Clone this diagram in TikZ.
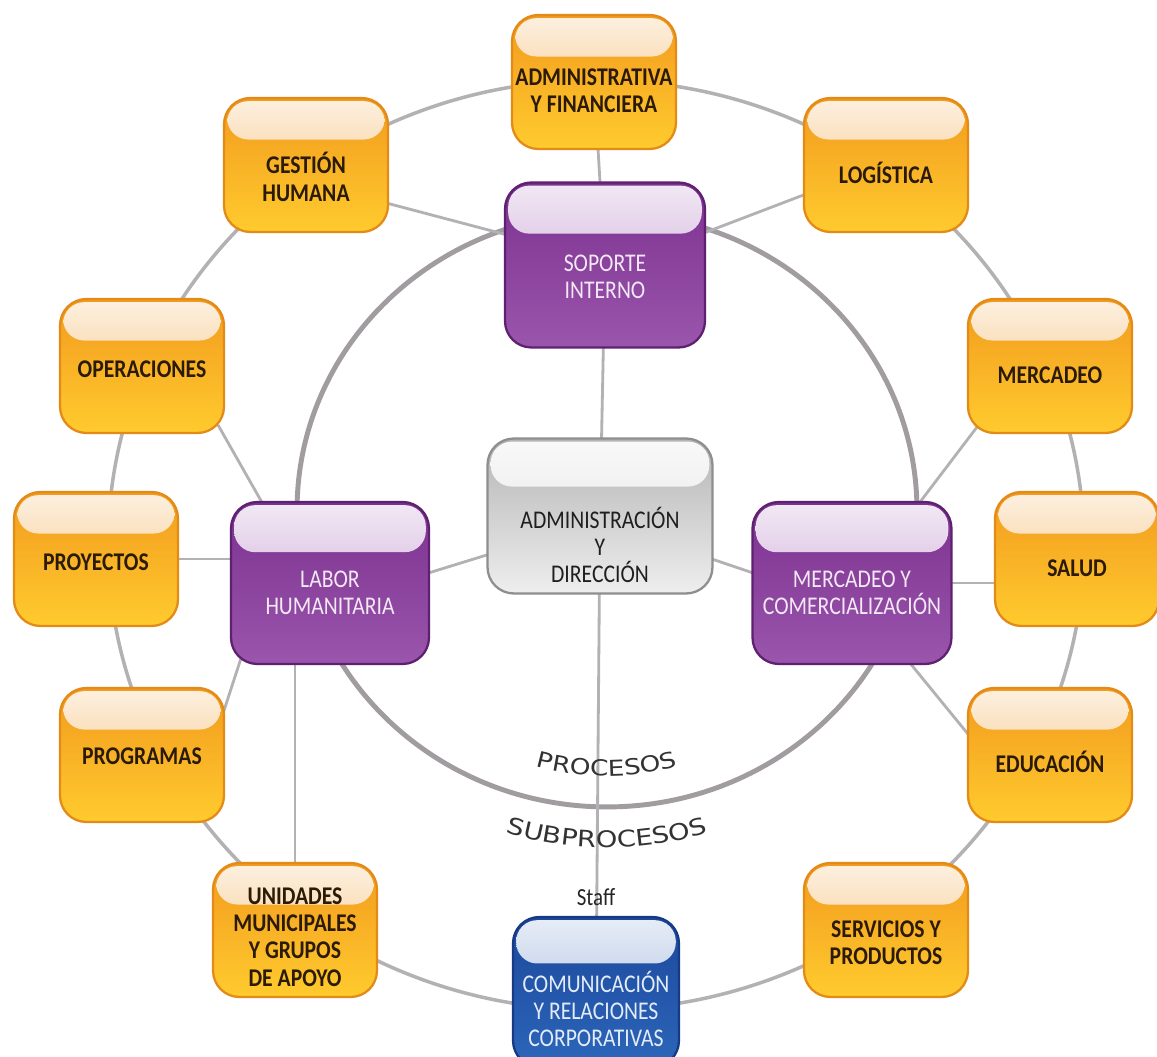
\documentclass[tikz,border=0pt]{standalone}
\usepackage{fontspec}
\setmainfont{Carlito}
\newfontfamily\boxfont[FakeStretch=0.85]{Carlito}
\newfontfamily\techfont[FakeStretch=1.2, LetterSpace=6]{DejaVu Sans}
\usetikzlibrary{calc,positioning,decorations.text}

\definecolor{orBorder}{HTML}{E38A17}
\definecolor{orTop}{HTML}{F29A1E}
\definecolor{orBot}{HTML}{FFCB2E}
\definecolor{orHi}{HTML}{F6BE76}
\definecolor{orText}{HTML}{2B1A06}
\definecolor{puBorder}{HTML}{5E2170}
\definecolor{puTop}{HTML}{7C3290}
\definecolor{puBot}{HTML}{9A55AC}
\definecolor{puHi}{HTML}{C49AD0}
\definecolor{puText}{HTML}{F3E8F5}
\definecolor{grBorder}{HTML}{8E8E8E}
\definecolor{grTop}{HTML}{B4B4B4}
\definecolor{grBot}{HTML}{EEEEEE}
\definecolor{grHi}{HTML}{E2E2E2}
\definecolor{blBorder}{HTML}{163A84}
\definecolor{blTop}{HTML}{1C489C}
\definecolor{blBot}{HTML}{2C66BA}
\definecolor{blHi}{HTML}{98B0DA}
\definecolor{blText}{HTML}{E3ECF8}
\definecolor{ringIn}{HTML}{A09CA0}
\definecolor{ringOut}{HTML}{B4B1B4}

\pgfdeclarelayer{background}
\pgfsetlayers{background,main}

\begin{document}
\begin{tikzpicture}[x=0.02cm, y=0.02cm,
	box/.style={rectangle, rounded corners=15pt, line width=1.3pt, inner sep=0pt},
	gloss/.style={path picture={\shade[top color=white!78!#1, bottom color=#1, rounded corners=12pt]
		([xshift=1.8pt,yshift=-1.8pt]path picture bounding box.north west) rectangle
		($(path picture bounding box.north east)!0.31!(path picture bounding box.south east)+(-1.8pt,0)$);}},
	orangebox/.style={box, gloss=orHi, draw=orBorder, top color=orTop, bottom color=orBot, minimum width=3.28cm, minimum height=2.68cm},
	purplebox/.style={box, gloss=puHi, draw=puBorder, top color=puTop, bottom color=puBot, minimum width=3.96cm, minimum height=3.24cm},
	graybox/.style={box, gloss=grHi, draw=grBorder, top color=grTop, bottom color=grBot, minimum width=4.5cm, minimum height=3.1cm},
	bluebox/.style={box, gloss=blHi, draw=blBorder, top color=blTop, bottom color=blBot, minimum width=3.32cm, minimum height=3cm},
	ortext/.style={font=\boxfont\bfseries\fontsize{14.5}{15.5}\selectfont, text=orText, align=center, inner sep=0pt},
	putext/.style={font=\boxfont\fontsize{14.5}{15.5}\selectfont, text=puText, align=center, inner sep=0pt},
	grtext/.style={font=\boxfont\fontsize{14.5}{15.5}\selectfont, text=black!88, align=center, inner sep=0pt},
	bltext/.style={font=\boxfont\fontsize{14.5}{15.5}\selectfont, text=blText, align=center, inner sep=0pt},
	ring/.style={draw=ringIn, line width=2.8pt},
	outring/.style={draw=ringOut, line width=2pt},
	spoke/.style={draw=ringOut, line width=1.6pt, shorten <=-6pt, shorten >=-6pt}]

	\useasboundingbox (0,0) rectangle (1157,1057);

	% centre boxes
	\node[graybox] (admindir) at (600,541) {};
	\node[purplebox, minimum width=4cm, minimum height=3.3cm] (soporte) at (605,792) {};
	\node[purplebox] (labor) at (330,474) {};
	\node[purplebox, minimum width=3.98cm] (merc) at (852,474) {};
	\node[bluebox] (comunic) at (596,65) {};

	% outer boxes
	\node[orangebox] (adminfin) at (594,975) {};
	\node[orangebox] (gestion) at (306,892) {};
	\node[orangebox] (logistica) at (886,892) {};
	\node[orangebox] (operaciones) at (142,691) {};
	\node[orangebox] (mercadeo) at (1050,691) {};
	\node[orangebox] (proyectos) at (96,498) {};
	\node[orangebox] (salud) at (1077,498) {};
	\node[orangebox] (programas) at (142,302) {};
	\node[orangebox] (educacion) at (1050,302) {};
	\node[orangebox] (unidades) at (295,127) {};
	\node[orangebox] (servicios) at (886,127) {};

	% labels
	\node[grtext] (t-admindir) at ($(admindir)+(0,-29)$) {ADMINISTRACIÓN\\Y\\DIRECCIÓN};
	\node[putext] (t-soporte) at ($(soporte)+(0,-12)$) {SOPORTE\\INTERNO};
	\node[putext] (t-labor) at ($(labor)+(0,-10)$) {LABOR\\HUMANITARIA};
	\node[putext] (t-merc) at ($(merc)+(0,-10)$) {MERCADEO Y\\COMERCIALIZACIÓN};
	\node[bltext] (t-comunic) at ($(comunic)+(0,-17)$) {COMUNICACIÓN\\Y RELACIONES\\CORPORATIVAS};
	\node[ortext] (t-adminfin) at ($(adminfin)+(0,-9)$) {ADMINISTRATIVA\\Y FINANCIERA};
	\node[ortext] (t-gestion) at ($(gestion)+(0,-12)$) {GESTIÓN\\HUMANA};
	\node[ortext] (t-logistica) at ($(logistica)+(0,-8)$) {LOGÍSTICA};
	\node[ortext] (t-operaciones) at ($(operaciones)+(0,-3)$) {OPERACIONES};
	\node[ortext] (t-mercadeo) at ($(mercadeo)+(0,-9)$) {MERCADEO};
	\node[ortext] (t-proyectos) at ($(proyectos)+(0,-3)$) {PROYECTOS};
	\node[ortext] (t-salud) at ($(salud)+(0,-9)$) {SALUD};
	\node[ortext] (t-programas) at ($(programas)+(0,-1)$) {PROGRAMAS};
	\node[ortext] (t-educacion) at ($(educacion)+(0,-7)$) {EDUCACIÓN};
	\node[ortext] (t-unidades) at ($(unidades)+(0,-7)$) {UNIDADES\\MUNICIPALES\\Y GRUPOS\\DE APOYO};
	\node[ortext] (t-servicios) at ($(servicios)+(0,-13)$) {SERVICIOS Y\\PRODUCTOS};
	\node[font=\boxfont\fontsize{14}{14}\selectfont, text=black!85, inner sep=1pt] (staff) at (596,160) {Staff};

	\coordinate (inc) at (607,547);
	\coordinate (outc) at (596,512);

	\path[decorate, decoration={text along path, text align=center,
		text={|\techfont\fontsize{12.5}{13}\selectfont\color{black!80}|PROCESOS}}]
		(inc) ++(246:5.32cm) arc[start angle=246, end angle=294, radius=5.32cm];
	\path[decorate, decoration={text along path, text align=center,
		text={|\techfont\fontsize{13}{13}\selectfont\color{black!80}|SUBPROCESOS}}]
		(inc) ++(244:6.76cm) arc[start angle=244, end angle=296, radius=6.76cm];

	\begin{pgfonlayer}{background}
		\fill[white] (0,0) rectangle (1157,1057);
		\draw[outring] (outc) ellipse [x radius=9.76cm, y radius=9.3cm];
		\draw[ring] (inc) ellipse [x radius=6.2cm, y radius=5.94cm];

		\draw[spoke] (adminfin) -- (soporte);
		\draw[spoke] (gestion.-25) -- (soporte.163);
		\draw[spoke] (logistica.200) -- (soporte.18);
		\draw[spoke] (soporte) -- (admindir);
		\draw[spoke] (operaciones.-40) -- (labor.130);
		\draw[spoke] (proyectos) -- (proyectos -| labor);
		\draw[spoke] (programas.30) -- (labor.222);
		\draw[spoke] (unidades) -- (unidades |- labor);
		\draw[spoke] (admindir.199) -- (labor.6);
		\draw[spoke] (admindir.-21) -- (merc.174);
		\draw[spoke] (admindir) -- (comunic);
		\draw[spoke] (mercadeo.221) -- (merc.50);
		\draw[spoke] (merc) -- (merc -| salud);
		\draw[spoke] (educacion.165) -- (merc.-54);
	\end{pgfonlayer}
\end{tikzpicture}
\end{document}
